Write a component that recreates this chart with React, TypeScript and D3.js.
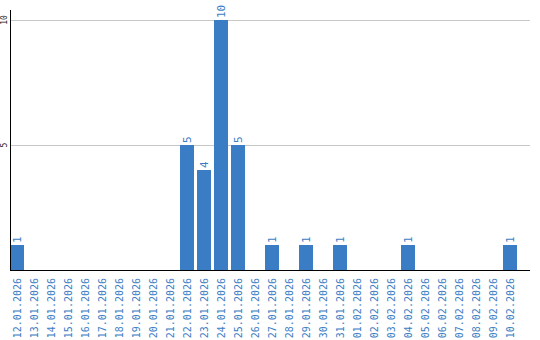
import React from "react";
import * as d3 from "d3";

const categories: string[] = [
  "12.01.2026", "13.01.2026", "14.01.2026", "15.01.2026", "16.01.2026",
  "17.01.2026", "18.01.2026", "19.01.2026", "20.01.2026", "21.01.2026",
  "22.01.2026", "23.01.2026", "24.01.2026", "25.01.2026", "26.01.2026",
  "27.01.2026", "28.01.2026", "29.01.2026", "30.01.2026", "31.01.2026",
  "01.02.2026", "02.02.2026", "03.02.2026", "04.02.2026", "05.02.2026",
  "06.02.2026", "07.02.2026", "08.02.2026", "09.02.2026", "10.02.2026",
];
const values: number[] = [
  1, 0, 0, 0, 0, 0, 0, 0, 0, 0,
  5, 4, 10, 5, 0, 1, 0, 1, 0, 1,
  0, 0, 0, 1, 0, 0, 0, 0, 0, 1,
];
const yTicks: number[] = [5, 10];

const W = 540;
const H = 340;
const left = 10;
const right = 520;
const gridRight = 530;
const top = 10;
const bottom = 270;
const blue = "#3b7dc4";
const mono = "'DejaVu Sans Mono', monospace";

export default function App() {
  const x = d3.scaleBand<string>().domain(categories).range([left, right]).padding(0);
  const y = d3.scaleLinear().domain([0, 10.4]).range([bottom, top]);
  const bw = x.step() * (14 / 17);
  return (
    <svg width={W} height={H} style={{ position: "absolute", left: 0, top: 0 }}>
      {yTicks.map((t) => (
        <g key={t}>
          <line x1={left} x2={gridRight} y1={y(t) + 0.5} y2={y(t) + 0.5} stroke="#c8c8c8" strokeWidth={1} />
          <text
            transform={`translate(7,${y(t)}) rotate(-90)`}
            textAnchor="middle"
            fontFamily={mono}
            fontSize={8}
            fill="#222"
          >
            {t}
          </text>
        </g>
      ))}
      {categories.map((c, i) =>
        values[i] > 0 ? (
          <g key={c}>
            <rect x={x(c)!} y={y(values[i])} width={bw} height={bottom - y(values[i])} fill={blue} />
            <text
              transform={`translate(${x(c)! + bw / 2 + 4},${y(values[i]) - 2}) rotate(-90)`}
              textAnchor="start"
              fontFamily={mono}
              fontSize={11}
              fill={blue}
            >
              {values[i]}
            </text>
          </g>
        ) : null
      )}
      <line x1={left + 0.5} x2={left + 0.5} y1={top} y2={bottom + 1} stroke="#000" strokeWidth={1} />
      <line x1={left} x2={gridRight} y1={bottom + 0.5} y2={bottom + 0.5} stroke="#000" strokeWidth={1} />
      {categories.map((c) => (
        <text
          key={"l" + c}
          transform={`translate(${x(c)! + bw / 2 + 4},${bottom + 8}) rotate(-90)`}
          textAnchor="end"
          fontFamily={mono}
          fontSize={10}
          fill={blue}
        >
          {c}
        </text>
      ))}
    </svg>
  );
}
